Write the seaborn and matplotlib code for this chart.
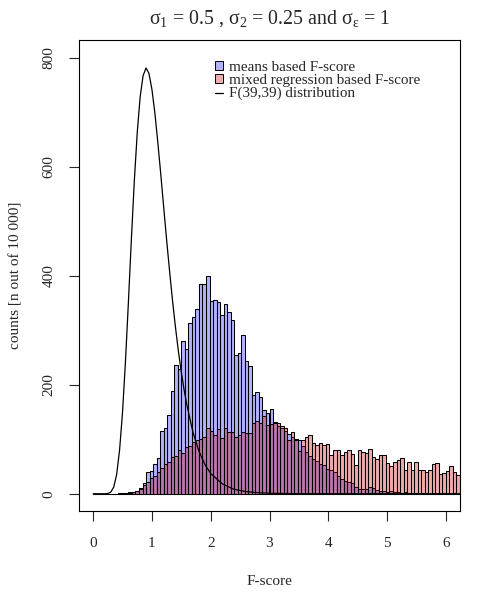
import numpy as np
import pandas as pd
import matplotlib
matplotlib.use("Agg")
import matplotlib.pyplot as plt
import seaborn as sns
from matplotlib.patches import Patch
from matplotlib.lines import Line2D

# histogram bins (width)
bin_width = 0.06
mean_counts = [0, 0, 0, 0, 0, 0, 0, 1, 1, 2,
               3, 4, 5, 10, 20, 40, 42, 54, 66, 115,
               120, 145, 188, 237, 228, 281, 265, 314, 325, 338,
               385, 385, 400, 353, 355, 352, 327, 348, 334, 318,
               255, 258, 292, 243, 234, 182, 186, 177, 154, 149,
               156, 131, 125, 120, 115, 110, 105, 100, 98, 88,
               77, 70, 64, 60, 54, 52, 46, 43, 40, 32,
               27, 24, 22, 20, 12, 8, 9, 8, 12, 10,
               6, 5, 5, 4, 5, 3, 4, 2, 3, 2,
               2, 1, 2, 1, 1, 0, 1, 1, 0, 1,
               0, 0, 1, 0, 0]
mixed_counts = [0, 0, 0, 0, 0, 0, 0, 0, 1, 1,
                2, 3, 5, 9, 16, 22, 28, 33, 40, 47,
                54, 58, 68, 70, 80, 74, 86, 88, 95, 99,
                101, 104, 120, 116, 108, 118, 102, 120, 114, 114,
                105, 108, 114, 112, 112, 130, 133, 130, 143, 127,
                128, 130, 130, 124, 121, 99, 113, 99, 78, 99,
                105, 108, 93, 90, 93, 90, 92, 72, 81, 81,
                71, 76, 81, 73, 53, 80, 76, 75, 82, 67,
                63, 71, 71, 56, 51, 59, 62, 65, 44, 59,
                43, 59, 43, 43, 39, 44, 55, 57, 37, 38,
                41, 50, 39, 35, 33]

# F(39,39) curve, scaled to counts
f_x = [0, 0.2, 0.25, 0.3, 0.35, 0.4, 0.45, 0.5, 0.55, 0.6, 0.65, 0.7, 0.75,
       0.8, 0.85, 0.9, 0.95, 1.0, 1.05, 1.1, 1.15, 1.2, 1.25, 1.3, 1.35,
       1.4, 1.45, 1.5, 1.55, 1.6, 1.7, 1.8, 1.9, 2.0, 2.2, 2.4, 2.6, 2.8,
       3.0, 3.5, 6.3]
f_counts = [0, 0, 0.5, 3, 12, 35, 80, 149, 242, 351, 465, 572, 662,
            728, 767, 781, 771, 742, 699, 645, 587, 526, 466, 409, 355,
            306, 262, 223, 189, 160, 112, 78, 54, 37, 18, 8, 4, 2,
            1, 0, 0]

n_bins = len(mean_counts)
edges = np.arange(n_bins + 1) * bin_width
centers = (edges[:-1] + edges[1:]) / 2
df = pd.DataFrame({"x": centers, "means": mean_counts, "mixed": mixed_counts})

sns.set_style("ticks")
plt.rcParams["font.family"] = ["Liberation Serif", "DejaVu Serif"]
plt.rcParams["mathtext.fontset"] = "custom"
plt.rcParams["mathtext.rm"] = "Liberation Serif"
plt.rcParams["mathtext.it"] = "Liberation Serif"

fig = plt.figure(figsize=(5, 6), dpi=100)
ax = fig.add_axes([0.158, 0.148, 0.762, 0.785])

blue = (0, 0, 1, 0.3)
red = (0.8, 0, 0, 0.32)
rng = (0, n_bins * bin_width)
sns.histplot(data=df, x="x", weights="means", binwidth=bin_width, binrange=rng,
             stat="count", color="blue", alpha=0.3, edgecolor="black",
             linewidth=0.75, ax=ax)
sns.histplot(data=df, x="x", weights="mixed", binwidth=bin_width, binrange=rng,
             stat="count", color=(0.8, 0, 0), alpha=0.32, edgecolor="black",
             linewidth=0.75, ax=ax)
sns.lineplot(x=f_x, y=f_counts, color="black", linewidth=0.9, ax=ax)

ax.set_xlim(-0.24, 6.24)
ax.set_ylim(-32, 832)
ax.set_xticks([0, 1, 2, 3, 4, 5, 6])
ax.set_yticks([0, 200, 400, 600, 800])
ax.tick_params(axis="both", direction="out", length=7, width=0.8, labelsize=11)
ax.tick_params(axis="x", pad=11.5)
ax.tick_params(axis="y", pad=10)
for lab in ax.get_yticklabels():
    lab.set_rotation(90)
    lab.set_va("center")
for s in ax.spines.values():
    s.set_visible(True)
    s.set_linewidth(0.8)
    s.set_color("black")

ax.set_xlabel("F-score", fontsize=11)
ax.set_ylabel("counts [n out of 10 000]", fontsize=11)
ax.xaxis.set_label_coords(0.5, -0.136)
ax.yaxis.set_label_coords(-0.147, 0.5)
ax.set_title("σ$_1$ = 0.5 , σ$_2$ = 0.25 and σ$_ε$ = 1", fontsize=14.3, pad=12)

handles = [Patch(facecolor=blue, edgecolor="black", linewidth=0.7),
           Patch(facecolor=red, edgecolor="black", linewidth=0.7),
           Line2D([0], [0], color="black", linewidth=0.9)]
labels = ["means based F-score", "mixed regression based F-score",
          "F(39,39) distribution"]
ax.legend(handles, labels, loc="upper left", bbox_to_anchor=(0.337, 0.972),
          frameon=False, fontsize=10.9, handlelength=0.55, handleheight=0.45,
          handletextpad=0.35, labelspacing=0.0, borderpad=0)

fig.savefig("out.png", dpi=100)
